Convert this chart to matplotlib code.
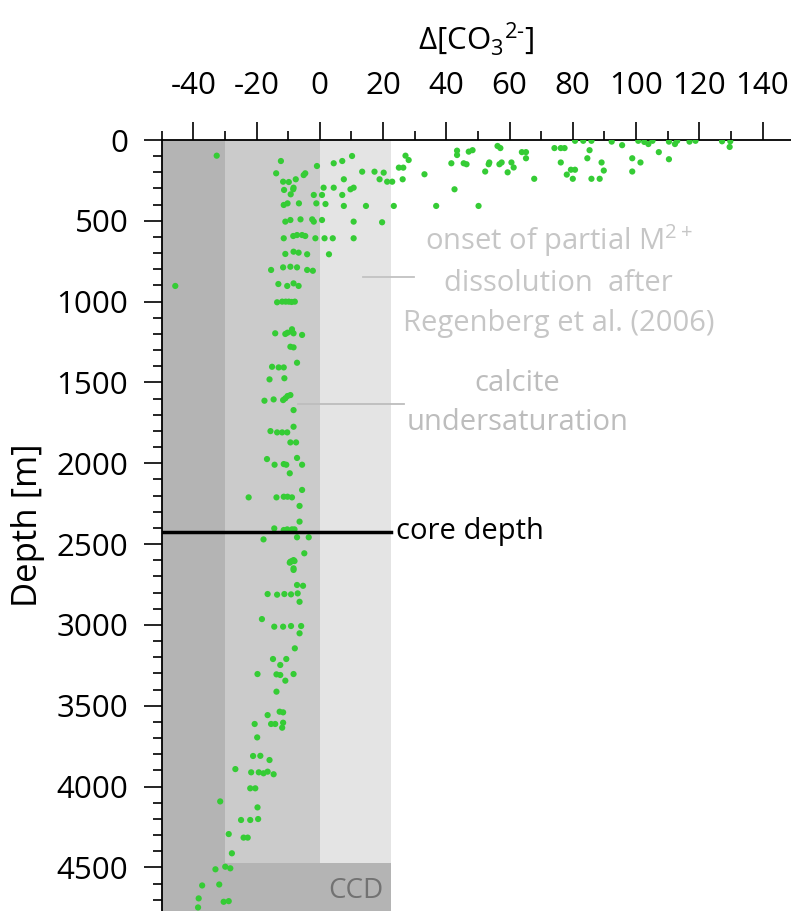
import matplotlib
matplotlib.use("Agg")
import matplotlib.pyplot as plt

plt.rcParams["font.family"] = ["Open Sans", "DejaVu Sans"]
plt.rcParams["mathtext.fontset"] = "custom"
plt.rcParams["mathtext.rm"] = "Open Sans"
plt.rcParams["mathtext.it"] = "Open Sans"
plt.rcParams["axes.unicode_minus"] = False

# carbonate ion saturation (delta CO3 2-) vs. water depth
dco3 = [
    -32.6, -45.7, -12.3, -13.8, -11.6, -9.8, -7.6, -11.3, -8.4, -8.3, -9.2, -11.4, -10.2, -6.6,
    -4.6, -5.1, -1.9, 0.7, -0.9, -1.1, 1.8, -10.9, -9.3, -6.1, -2.4, -1.9, 0.7, -11.4, -8.4,
    -7.2, -5.6, -4.6, -1.4, 1.5, 4.1, -10.9, -8.3, -6.7, -4.0, 2.9, -15.4, -11.6, -9.3, -7.2,
    -4.0, -2.2, -13.1, -10.3, -8.3, -6.7, -13.5, -11.9, -9.8, -7.9, -10.8, -8.9, -8.8,
    10.2, 7.1, 4.4, 7.6, 4.4, 9.7, 10.7, 1.2, 7.1, 7.6, 14.6, 23.4, 36.8, 13.4, 17.3, 20.2,
    18.9, 21.3, 22.9, 26.2, 25.0, 26.4, 27.1, 28.1, 33.1, 42.6, 43.4, 43.4, 41.6, 45.5, 46.4,
    47.1, 10.7, 19.7, 10.7,
    48.3, 50.2, 53.6, 53.4, 57.5, 56.8, 56.2, 57.1, 52.3, 60.6, 61.3, 59.4, 63.9, 65.2, 65.2,
    67.8, 74.2, 76.2, 77.4, 76.2, 79.4, 80.7, 85.3, 84.6, 85.9, 89.1, 89.8, 88.5, 80.0, 78.1,
    98.8, 101.4, 98.8, 107.2, 110.4, 95.6, 80.7, 83.3, 85.9, 92.3, 100.7, 102.6, 103.9, 105.2,
    110.4, 112.3, 113.0, 116.9, 118.8, 127.2, 129.8, 129.6,
    -14.1, -10.9, -10.2, -8.8, -8.3, -5.6, -9.3, -8.3, -7.2, -15.1, -13.0, -11.4, -15.9, -11.2,
    -17.5, -14.6, -11.6, -10.9, -10.2, -9.3, -8.3, -8.3, -15.6, -13.5, -11.9, -10.3, -9.3, -7.5,
    -16.7, -14.3, -11.4, -10.6, -7.2, -5.6, -9.5, -5.6, -22.5, -13.7, -11.4, -10.2, -8.8, -6.4,
    -6.4, -14.4, -11.4, -10.3, -8.8, -8.0, -17.8, -7.2, -3.5, -4.9, -9.3, -8.3, -8.3,
    -9.5, -8.8, -8.0, -8.3, -7.2, -5.3, -16.5, -13.5, -11.2, -9.1, -7.0, -6.4, -18.3, -14.4,
    -11.6, -9.1, -5.9, -6.4, -7.9, -14.8, -10.6, -12.5, -19.7, -13.7, -12.5, -8.3, -10.9, -13.7,
    -12.7, -11.6, -16.5, -20.6, -15.4, -14.1, -11.6, -11.9, -19.8,
    -21.1, -18.8, -15.9, -26.7, -21.7, -19.3, -17.8, -16.5, -14.6, -22.0, -20.4, -31.5, -19.7,
    -24.9, -22.0, -19.5, -28.8, -24.1, -22.8, -27.8, -33.0, -29.9, -28.3, -37.2, -31.8, -38.3,
    -30.4, -28.8, -38.5,
]
depth = [
    97, 903, 130, 206, 258, 260, 243, 309, 305, 295, 336, 402, 392, 392,
    206, 217, 340, 340, 161, 392, 396, 505, 495, 491, 491, 505, 495, 608, 594,
    588, 588, 594, 608, 608, 608, 705, 691, 697, 707, 707, 804, 788, 784, 788,
    804, 809, 891, 903, 887, 903, 1004, 1000, 1000, 1000, 1000, 1002, 1171,
    99, 130, 144, 243, 295, 305, 295, 295, 340, 408, 408, 408, 408, 196, 196, 202,
    243, 258, 258, 243, 171, 171, 97, 124, 212, 305, 66, 93, 144, 144, 150,
    72, 505, 509, 608,
    63, 408, 139, 150, 139, 150, 37, 50, 195, 139, 170, 200, 75, 75, 113,
    240, 50, 50, 50, 139, 184, 184, 63, 113, 240, 139, 189, 240, 240, 214,
    113, 139, 195, 75, 119, 32, 5, 5, 5, 10, 5, 12, 25, 5,
    10, 25, 5, 10, 5, 8, 8, 43,
    1196, 1200, 1192, 1186, 1196, 1206, 1279, 1283, 1378, 1403, 1407, 1407, 1481, 1474,
    1613, 1605, 1609, 1598, 1584, 1578, 1671, 1774, 1801, 1809, 1809, 1809, 1871, 1871,
    1974, 2009, 2005, 2009, 1967, 2009, 2062, 2165, 2211, 2211, 2207, 2207, 2211, 2264,
    2361, 2403, 2413, 2409, 2409, 2409, 2471, 2458, 2458, 2557, 2609, 2599, 2650,
    2615, 2605, 2605, 2660, 2753, 2758, 2809, 2813, 2809, 2811, 2805, 2857, 2964, 3011,
    3011, 3007, 3007, 3052, 3145, 3211, 3211, 3248, 3304, 3306, 3310, 3304, 3345, 3413,
    3537, 3541, 3558, 3613, 3613, 3613, 3605, 3636, 3696,
    3811, 3810, 3836, 3892, 3912, 3912, 3918, 3908, 3924, 4011, 4011, 4092, 4129,
    4207, 4207, 4201, 4294, 4316, 4316, 4413, 4512, 4496, 4506, 4612, 4606, 4692,
    4713, 4709, 4748,
]

core_depth = 2425
ccd_depth = 4475
calcite_sat = 0.0     # calcite saturation
mg_onset = -30.0      # onset of partial Mg2+ dissolution
shade_right = 22.5

x_min, x_max = -50, 149
y_max = 4770

fig = plt.figure(figsize=(7.91, 9.11), dpi=100)
ax = fig.add_axes([0.2044, 0.0, 1 - 0.2044, 1 - 140 / 911])

# background zones
ax.fill_betweenx([0, y_max], x_min, mg_onset, color="#b4b4b4", lw=0, zorder=0)
ax.fill_betweenx([0, ccd_depth], mg_onset, calcite_sat, color="#cbcbcb", lw=0, zorder=0)
ax.fill_betweenx([0, ccd_depth], calcite_sat, shade_right, color="#e4e4e4", lw=0, zorder=0)
ax.fill_betweenx([ccd_depth, y_max], mg_onset, shade_right, color="#b4b4b4", lw=0, zorder=0)
ax.text((mg_onset + shade_right) / 2 + 15, (ccd_depth + y_max) / 2 + 25, "CCD",
        color="#727272", fontsize=20, ha="center", va="center")

ax.scatter(dco3, depth, s=20, color="#35cc35", edgecolors="none", zorder=3)

# core depth
ax.plot([x_min, shade_right], [core_depth, core_depth], color="black", lw=2.5, zorder=4)
ax.text(shade_right + 1.5, core_depth, "core depth", fontsize=21, ha="left", va="center")

# annotations
ax.plot([13.8, 29.9], [848, 848], color="#c2c2c2", lw=1.3)
ax.text(75.5, 866, "onset of partial M$^{2+}$\ndissolution  after\nRegenberg et al. (2006)",
        color="#c6c6c6", fontsize=21, ha="center", va="center", linespacing=1.48)
ax.plot([-6.8, 26.5], [1634, 1634], color="#bdbdbd", lw=1.3)
ax.text(62.5, 1627, "calcite\nundersaturation", color="#bdbdbd", fontsize=21,
        ha="center", va="center", linespacing=1.48)

ax.set_xlim(x_min, x_max)
ax.set_ylim(y_max, 0)

ax.xaxis.tick_top()
ax.xaxis.set_label_position("top")
ax.set_xticks(range(-40, 141, 20))
ax.set_xticks(range(-50, 150, 10), minor=True)
ax.set_yticks(range(0, 4501, 500))
ax.set_yticks(range(0, 4770, 100), minor=True)
ax.tick_params(which="major", length=13, width=1.2, labelsize=22.5)
ax.tick_params(which="minor", length=6.5, width=1.2)
ax.tick_params(axis="y", which="major", pad=11)
ax.tick_params(axis="x", which="major", pad=15)

ax.spines["right"].set_visible(False)
ax.spines["bottom"].set_visible(False)
ax.spines["left"].set_linewidth(1.3)
ax.spines["top"].set_linewidth(1.3)

ax.set_xlabel(r"$\Delta$[CO$_3$$^{2\text{-}}$]", fontsize=22.5, labelpad=16)
ax.set_ylabel("Depth [m]", fontsize=25, labelpad=8)

fig.savefig("out.png", dpi=100)
